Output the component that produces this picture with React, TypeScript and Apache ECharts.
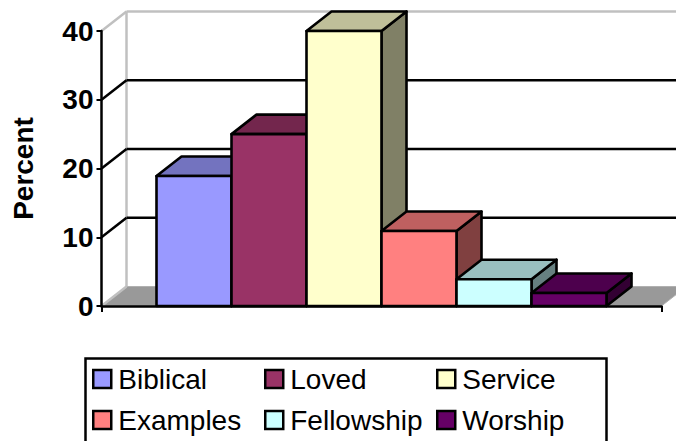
import React, { useEffect, useRef } from "react";
import * as echarts from "echarts";

const categories = ["Biblical", "Loved", "Service", "Examples", "Fellowship", "Worship"];
const percentValues = [18.9, 25, 40, 10.9, 3.9, 1.9];
const barColors = ["#9999FF", "#993366", "#FFFFCC", "#FF8080", "#CCFFFF", "#660066"];
const topColors = ["#7373BF", "#73264D", "#BFBF99", "#BF6060", "#99BFBF", "#4D004D"];
const sideColors = ["#4D4D80", "#4D1A33", "#808066", "#804040", "#668080", "#330033"];
const gridValues = [0, 10, 20, 30, 40];
const legendColumns = [
  { left: 92, names: ["Biblical", "Examples"] },
  { left: 264, names: ["Loved", "Fellowship"] },
  { left: 436, names: ["Service", "Worship"] },
];

const DX = 25;
const DY = 19.5;
const SLOTS = 560 / 75;
const FONT = '"Liberation Sans", Arial, sans-serif';

export default function App() {
  const ref = useRef<HTMLDivElement>(null);
  useEffect(() => {
    const chart = echarts.init(ref.current!, null, { renderer: "svg" });

    const floorSeries: any = {
      type: "custom",
      name: "floor",
      silent: true,
      clip: false,
      data: [[0, 0]],
      renderItem: (_p: any, api: any) => {
        const b = api.coord([0, 0]);
        const w = api.size([1, 0])[0];
        const x0 = b[0] - w / 2;
        const x1 = b[0] + w / 2;
        const y0 = b[1];
        const top = api.coord([0, 40])[1];
        const gray = { stroke: "#C0C0C0", lineWidth: 2.5, fill: "none" };
        return {
          type: "group",
          children: [
            {
              type: "polygon",
              shape: { points: [[x0, y0], [x0 + DX, y0 - DY], [x1 + DX, y0 - DY], [x1, y0]] },
              style: { fill: "#999999", stroke: "#B0B0B0", lineWidth: 1 },
            },
            {
              type: "line",
              shape: { x1: x0 + DX, y1: top - DY, x2: x0 + DX, y2: y0 - DY },
              style: gray,
            },
          ],
        };
      },
    };

    const gridSeries: any = {
      type: "custom",
      name: "grid",
      silent: true,
      clip: false,
      data: gridValues.map((v) => [0, v]),
      renderItem: (_p: any, api: any) => {
        const v = api.value(1);
        const c = api.coord([0, v]);
        const w = api.size([1, 0])[0];
        const x0 = c[0] - w / 2;
        const x1 = c[0] + w / 2;
        const edge = v === 0 || v === 40;
        const style = { stroke: edge ? "#C0C0C0" : "#000000", lineWidth: 2.5, fill: "none" };
        const children: any[] = [
          { type: "line", shape: { x1: x0, y1: c[1], x2: x0 + DX, y2: c[1] - DY }, style },
        ];
        if (v !== 0) {
          children.push({
            type: "line",
            shape: { x1: x0 + DX, y1: c[1] - DY, x2: x1 + DX, y2: c[1] - DY },
            style,
          });
        }
        return { type: "group", children };
      },
    };

    const barSeries: any[] = categories.map((name, i) => ({
      type: "custom",
      name,
      clip: false,
      itemStyle: { color: barColors[i] },
      data: [[0, percentValues[i]]],
      renderItem: (_p: any, api: any) => {
        const c = api.coord([0, api.value(1)]);
        const b = api.coord([0, 0]);
        const bw = api.size([1, 0])[0] / SLOTS;
        const l = b[0] + (i - 3) * bw;
        const r = l + bw;
        const t = c[1];
        const y0 = b[1];
        const edge = { stroke: "#000000", lineWidth: 2.6, lineJoin: "round" };
        return {
          type: "group",
          children: [
            {
              type: "polygon",
              shape: { points: [[r, t], [r + DX, t - DY], [r + DX, y0 - DY], [r, y0]] },
              style: { fill: sideColors[i], ...edge },
            },
            {
              type: "polygon",
              shape: { points: [[l, t], [l + DX, t - DY], [r + DX, t - DY], [r, t]] },
              style: { fill: topColors[i], ...edge },
            },
            {
              type: "rect",
              shape: { x: l, y: t, width: bw, height: y0 - t },
              style: { fill: barColors[i], ...edge },
            },
          ],
        };
      },
    }));

    chart.setOption({
      animation: false,
      backgroundColor: "#FFFFFF",
      textStyle: { fontFamily: FONT },
      grid: { left: 101.5, right: 14.5, top: 31, bottom: 135, containLabel: false },
      xAxis: {
        type: "category",
        data: [""],
        z: 10,
        axisLine: { lineStyle: { color: "#000", width: 2.5 } },
        axisTick: { show: true, length: 6, lineStyle: { color: "#000", width: 2 } },
        axisLabel: { show: false },
      },
      yAxis: {
        type: "value",
        min: 0,
        max: 40,
        interval: 10,
        z: 10,
        name: "Percent",
        nameLocation: "middle",
        nameRotate: 90,
        nameGap: 64,
        nameTextStyle: { fontFamily: FONT, fontWeight: "bold", fontSize: 28, color: "#000" },
        axisLine: { show: true, lineStyle: { color: "#000", width: 2.5 } },
        axisTick: { show: true, length: 5, lineStyle: { color: "#000", width: 2 } },
        axisLabel: { fontFamily: FONT, fontWeight: "bold", fontSize: 28, color: "#000", margin: 8 },
        splitLine: { show: false },
      },
      legend: legendColumns.map((col) => ({
        left: col.left,
        top: 365,
        orient: "vertical",
        selectedMode: false,
        itemWidth: 18,
        itemHeight: 18,
        itemGap: 13,
        padding: 0,
        textStyle: { fontFamily: FONT, fontSize: 28, color: "#000", padding: [0, 0, 0, 2] },
        data: col.names.map((n) => {
          const i = categories.indexOf(n);
          return {
            name: n,
            icon: "rect",
            itemStyle: { color: barColors[i], borderColor: "#000", borderWidth: 2.5 },
          };
        }),
      })),
      graphic: [
        {
          type: "rect",
          left: 83,
          top: 356,
          shape: { width: 521, height: 100 },
          style: { fill: "none", stroke: "#000", lineWidth: 2.5 },
          z: -1,
        },
      ],
      series: [floorSeries, gridSeries, ...barSeries],
    });
    return () => chart.dispose();
  }, []);
  return (
    <div
      ref={ref}
      style={{ position: "fixed", left: 0, top: 0, width: 676, height: 441 }}
    />
  );
}
